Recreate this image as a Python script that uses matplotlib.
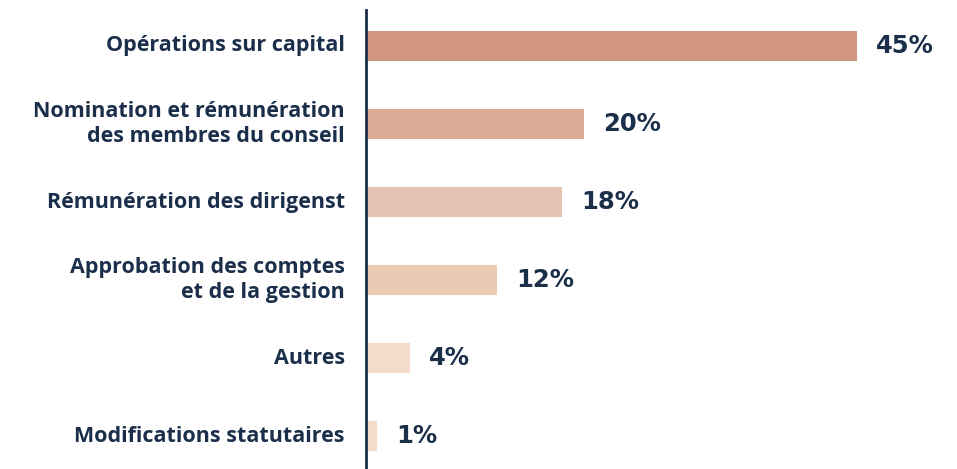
import matplotlib.pyplot as plt

categories = ['Opérations sur capital',
              'Nomination et rémunération\ndes membres du conseil',
              'Rémunération des dirigenst',
              'Approbation des comptes\net de la gestion',
              'Autres',
              'Modifications statutaires']
values = [45, 20, 18, 12, 4, 1]
colors = ['#d09680', '#dbac98', '#e4c3b2', '#ecc9b2', '#f4dbcc', '#f4dbcc']

navy = '#1b2f4b'

fig = plt.figure(figsize=(9.57, 4.69), dpi=100)
ax = fig.add_axes([366 / 957, 0, (857 - 366) / 957, 0.9787])

pos = list(range(len(values)))
ax.barh(pos, values, height=0.385, color=colors)
ax.set_xlim(0, 45)
ax.set_ylim(5.42, -0.46)

for y, v in zip(pos, values):
    ax.annotate(f'{v}%', (v, y), xytext=(19, 0), textcoords='offset pixels',
                va='center', ha='left', fontsize=17.5, fontweight='bold',
                color=navy, clip_on=False, family='DejaVu Sans')

for y, lab in zip(pos, categories):
    ax.annotate(lab, (0, y), xytext=(-21, 0), textcoords='offset pixels',
                va='center', ha='right', fontsize=15.5, fontweight='bold',
                color=navy, linespacing=1.3, family='Open Sans')

ax.set_xticks([])
ax.set_yticks([])
for s in ['top', 'right', 'bottom']:
    ax.spines[s].set_visible(False)
ax.spines['left'].set_color(navy)
ax.spines['left'].set_linewidth(2)

fig.savefig('out.png', dpi=100)
